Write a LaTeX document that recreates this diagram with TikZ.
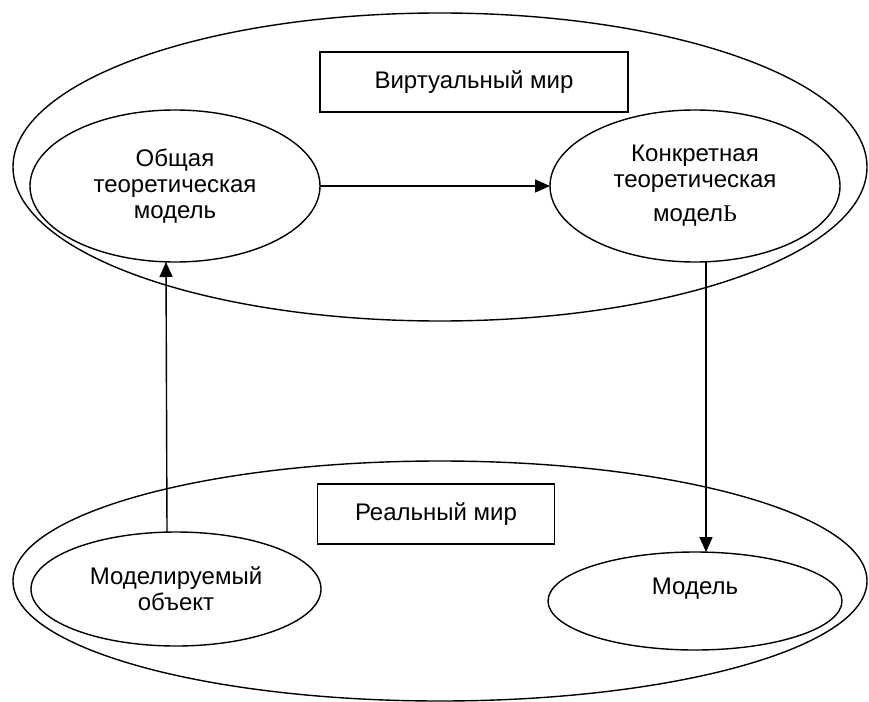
\documentclass[tikz,border=0pt]{standalone}
\usepackage{fontspec}
\setmainfont{Liberation Sans}
\newfontfamily\serifcyr{Liberation Serif}
\usetikzlibrary{shapes.geometric,arrows.meta,positioning}

\begin{document}
\begin{tikzpicture}[x=1pt, y=-1pt,
	every node/.style={font=\fontsize{24}{26}\selectfont, align=center, inner sep=0pt, outer sep=0pt},
	world/.style={draw, ellipse, line width=1.4pt, minimum width=854, minimum height=#1},
	model/.style={draw, ellipse, line width=1.4pt, minimum width=290, minimum height=#1},
	worldbox/.style={draw, rectangle, line width=1.4pt, minimum width=#1, minimum height=60},
	link/.style={line width=1.4pt, -{Triangle[length=15pt, width=13pt]}},
]
	\useasboundingbox (0,0) rectangle (869,701);

	\node[world=308] (virtual) at (440,167) {};
	\node[world=240] (real) at (440,581) {};

	\node[worldbox=308] (vbox) at (474,82) {Виртуальный мир};
	\node[worldbox=237] (rbox) at (436,514) {Реальный мир};

	\node[model=152] (general) at (175,186) {Общая\\теоретическая\\модель};
	\node[model=152, right=230 of general] (concrete) {Конкретная\\теоретическая\\[8pt]модел{\serifcyr Ь}};
	\node[model=114] (object) at (176,589) {Моделируемый\\объект};
	\node[model=98, minimum width=294, label={[yshift=12pt]center:Модель}] (result) at (695,601) {};

	\draw[link] (general) -- (concrete);
	\draw[link] ([xshift=11]concrete.south) -- ([xshift=11]result.north);
	\draw[link] ([xshift=-9]object.north) -- ([xshift=-9]general.south);
\end{tikzpicture}
\end{document}
